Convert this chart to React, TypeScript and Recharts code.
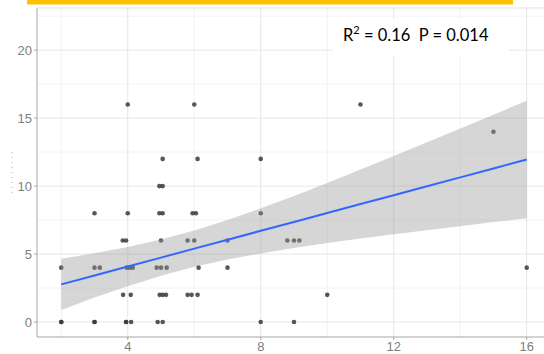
import React from "react";
import {
  Area,
  CartesianGrid,
  ComposedChart,
  Line,
  Scatter,
  XAxis,
  YAxis,
} from "recharts";

const pointX = [
  2, 2, 3, 3, 3.95, 3.95, 4.1, 4.9, 5.05, 8, 9,
  3.86, 4.09, 4.96, 5.05, 5.15, 5.8, 5.92, 6.1, 10,
  2, 3, 3.16, 3.97, 4.06, 4.15, 4.87, 5, 5.17, 6.13, 7, 16,
  3.85, 3.95, 5, 5.8, 6, 7, 8.8, 9, 9.16,
  3, 4, 4.95, 5.05, 5.95, 6.05, 8,
  4.95, 5.05,
  5.05, 6.1, 8,
  15,
  4, 6, 11,
];
const pointY = [
  0, 0, 0, 0, 0, 0, 0, 0, 0, 0, 0,
  2, 2, 2, 2, 2, 2, 2, 2, 2,
  4, 4, 4, 4, 4, 4, 4, 4, 4, 4, 4, 4,
  6, 6, 6, 6, 6, 6, 6, 6, 6,
  8, 8, 8, 8, 8, 8, 8,
  10, 10,
  12, 12, 12,
  14,
  16, 16, 16,
];

// lm smooth with its confidence band
const bandX = [2, 3, 4, 5, 6, 7, 8, 9, 10, 11, 12, 13, 14, 15, 16];
const fitValues = [2.77, 3.43, 4.08, 4.74, 5.4, 6.05, 6.71, 7.36, 8.02, 8.68, 9.33, 9.99, 10.64, 11.3, 11.96];
const lowerValues = [0.88, 1.8, 2.64, 3.41, 4.06, 4.6, 5.05, 5.44, 5.81, 6.14, 6.45, 6.76, 7.05, 7.35, 7.64];
const upperValues = [4.66, 5.06, 5.52, 6.07, 6.74, 7.5, 8.37, 9.28, 10.23, 11.22, 12.21, 13.22, 14.23, 15.25, 16.28];

const xTicks = [4, 8, 12, 16];
const yTicks = [0, 5, 10, 15, 20];
const xMinor = [2, 6, 10, 14];
const yMinor = [2.5, 7.5, 12.5, 17.5, 22.5];

const points = pointX.map((x, i) => ({ x, y: pointY[i] }));
const band = bandX.map((x, i) => ({
  x,
  fit: fitValues[i],
  range: [lowerValues[i], upperValues[i]],
}));

const tickStyle = { fontSize: 13, fill: "#808080", fontFamily: "Liberation Sans, Arial, sans-serif" };

const Dot = (props: any) => (
  <circle cx={props.cx} cy={props.cy} r={2.3} fill="#3a3a3a" fillOpacity={0.85} />
);

export default function App() {
  return (
    <div style={{ position: "absolute", left: 0, top: 0, width: 544, height: 354, background: "#fff" }}>
      <ComposedChart width={544} height={354} data={band} margin={{ top: 8, right: 0, bottom: 0, left: 0 }}>
        <CartesianGrid stroke="#f3f3f3" horizontalValues={yMinor} verticalValues={xMinor} />
        <CartesianGrid stroke="#e6e6e6" horizontalValues={yTicks} verticalValues={xTicks} />
        <XAxis
          dataKey="x"
          type="number"
          domain={[1.27, 16.52]}
          allowDataOverflow
          ticks={xTicks}
          height={17}
          tick={tickStyle}
          tickSize={3}
          tickMargin={2}
          stroke="#a6a6a6"
        />
        <YAxis
          type="number"
          domain={[-1.1, 23.1]}
          allowDataOverflow
          ticks={yTicks}
          width={37}
          tick={tickStyle}
          tickSize={3}
          tickMargin={2}
          stroke="#a6a6a6"
        />
        {/* points sit under the smooth, as in ggplot */}
        <Scatter data={points} dataKey="y" shape={Dot} zIndex={50} isAnimationActive={false} />
        <Area
          dataKey="range"
          type="linear"
          fill="#999999"
          fillOpacity={0.4}
          stroke="none"
          zIndex={100}
          isAnimationActive={false}
        />
        <Line dataKey="fit" type="linear" stroke="#3366FF" strokeWidth={2} dot={false} activeDot={false} isAnimationActive={false} />
      </ComposedChart>
      <svg width={544} height={354} style={{ position: "absolute", left: 0, top: 0, pointerEvents: "none" }}>
        <rect x={27} y={0} width={486} height={4.5} fill="#FFC000" />
        <line x1={37} y1={8} x2={544} y2={8} stroke="#e0e0e0" />
        <line x1={12} y1={152} x2={12} y2={193} stroke="#b0b0b0" strokeDasharray="1 4" />
        <rect x={333} y={20} width={176} height={36} fill="#fff" />
        <text x={343} y={41} fontSize={16.5} fontFamily="Lato, sans-serif" fill="#000" style={{ whiteSpace: "pre" }}>
          R<tspan fontSize={11} dy={-7}>2</tspan>
          <tspan dy={7}>{" = 0.16  P = 0.014"}</tspan>
        </text>
      </svg>
    </div>
  );
}
